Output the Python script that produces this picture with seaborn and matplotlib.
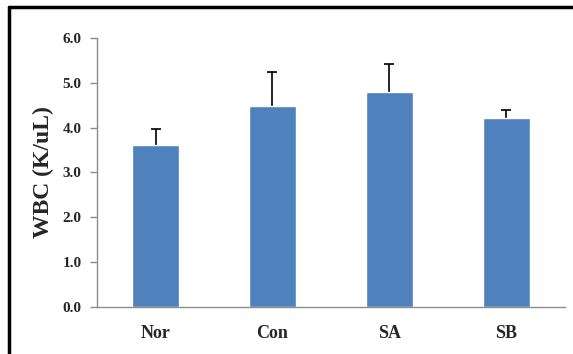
import pandas as pd
import numpy as np
import seaborn as sns
import matplotlib.pyplot as plt
from matplotlib.lines import Line2D

# values
groups = ['Nor', 'Con', 'SA', 'SB']
wbc_mean = [3.62, 4.49, 4.80, 4.22]
wbc_err = [0.35, 0.76, 0.62, 0.18]
yticks = [0.0, 1.0, 2.0, 3.0, 4.0, 5.0, 6.0]

df = pd.DataFrame({'group': groups, 'wbc': wbc_mean})

sns.set_style('white')
plt.rcParams['font.family'] = ['Liberation Serif', 'DejaVu Serif']

fig = plt.figure(figsize=(5.73, 3.54), dpi=100)
ax = fig.add_axes([0.1693, 0.1328, 0.8167, 0.7599])

sns.barplot(data=df, x='group', y='wbc', color='#4F81BD', saturation=1,
            width=0.4, errorbar=None, ax=ax, zorder=3)
# only the upper half of the error bar is shown
_, caps, _ = ax.errorbar(np.arange(len(groups)), wbc_mean,
                         yerr=[np.zeros(len(groups)), wbc_err],
                         fmt='none', ecolor='black', elinewidth=1.2,
                         capsize=3.5, capthick=1.2, zorder=2)
caps[0].set_visible(False)  # drop the lower cap

ax.set_xlim(-0.5, len(groups) - 0.5)
ax.set_ylim(0, 6)
ax.set_yticks(yticks)
ax.set_yticklabels([f'{v:.1f}' for v in yticks], fontsize=11, fontweight='bold')
ax.set_xticks(range(len(groups)))
ax.set_xticklabels(groups, fontsize=13, fontweight='bold')
ax.set_xticks(np.arange(len(groups)) + 0.5, minor=True)
ax.tick_params(axis='x', which='major', length=0, pad=13)
ax.tick_params(axis='x', which='minor', length=5, width=1, color='#8c8c8c', direction='out')
ax.tick_params(axis='y', length=5, width=1, color='#8c8c8c', direction='out', left=True, pad=6)
ax.set_xlabel('')
ax.set_ylabel('WBC (K/uL)', fontsize=17, fontweight='bold', labelpad=6)

for side in ['top', 'right']:
    ax.spines[side].set_visible(False)
for side in ['left', 'bottom']:
    ax.spines[side].set_color('#8c8c8c')
    ax.spines[side].set_linewidth(1)
    ax.spines[side].set_zorder(4)

# black frame, cut at right and bottom like the picture
fig.add_artist(Line2D([0.016, 0.016], [0, 0.98], color='black', lw=2.5))
fig.add_artist(Line2D([0.016, 1], [0.98, 0.98], color='black', lw=2.5))

fig.savefig('out.png', dpi=100)
